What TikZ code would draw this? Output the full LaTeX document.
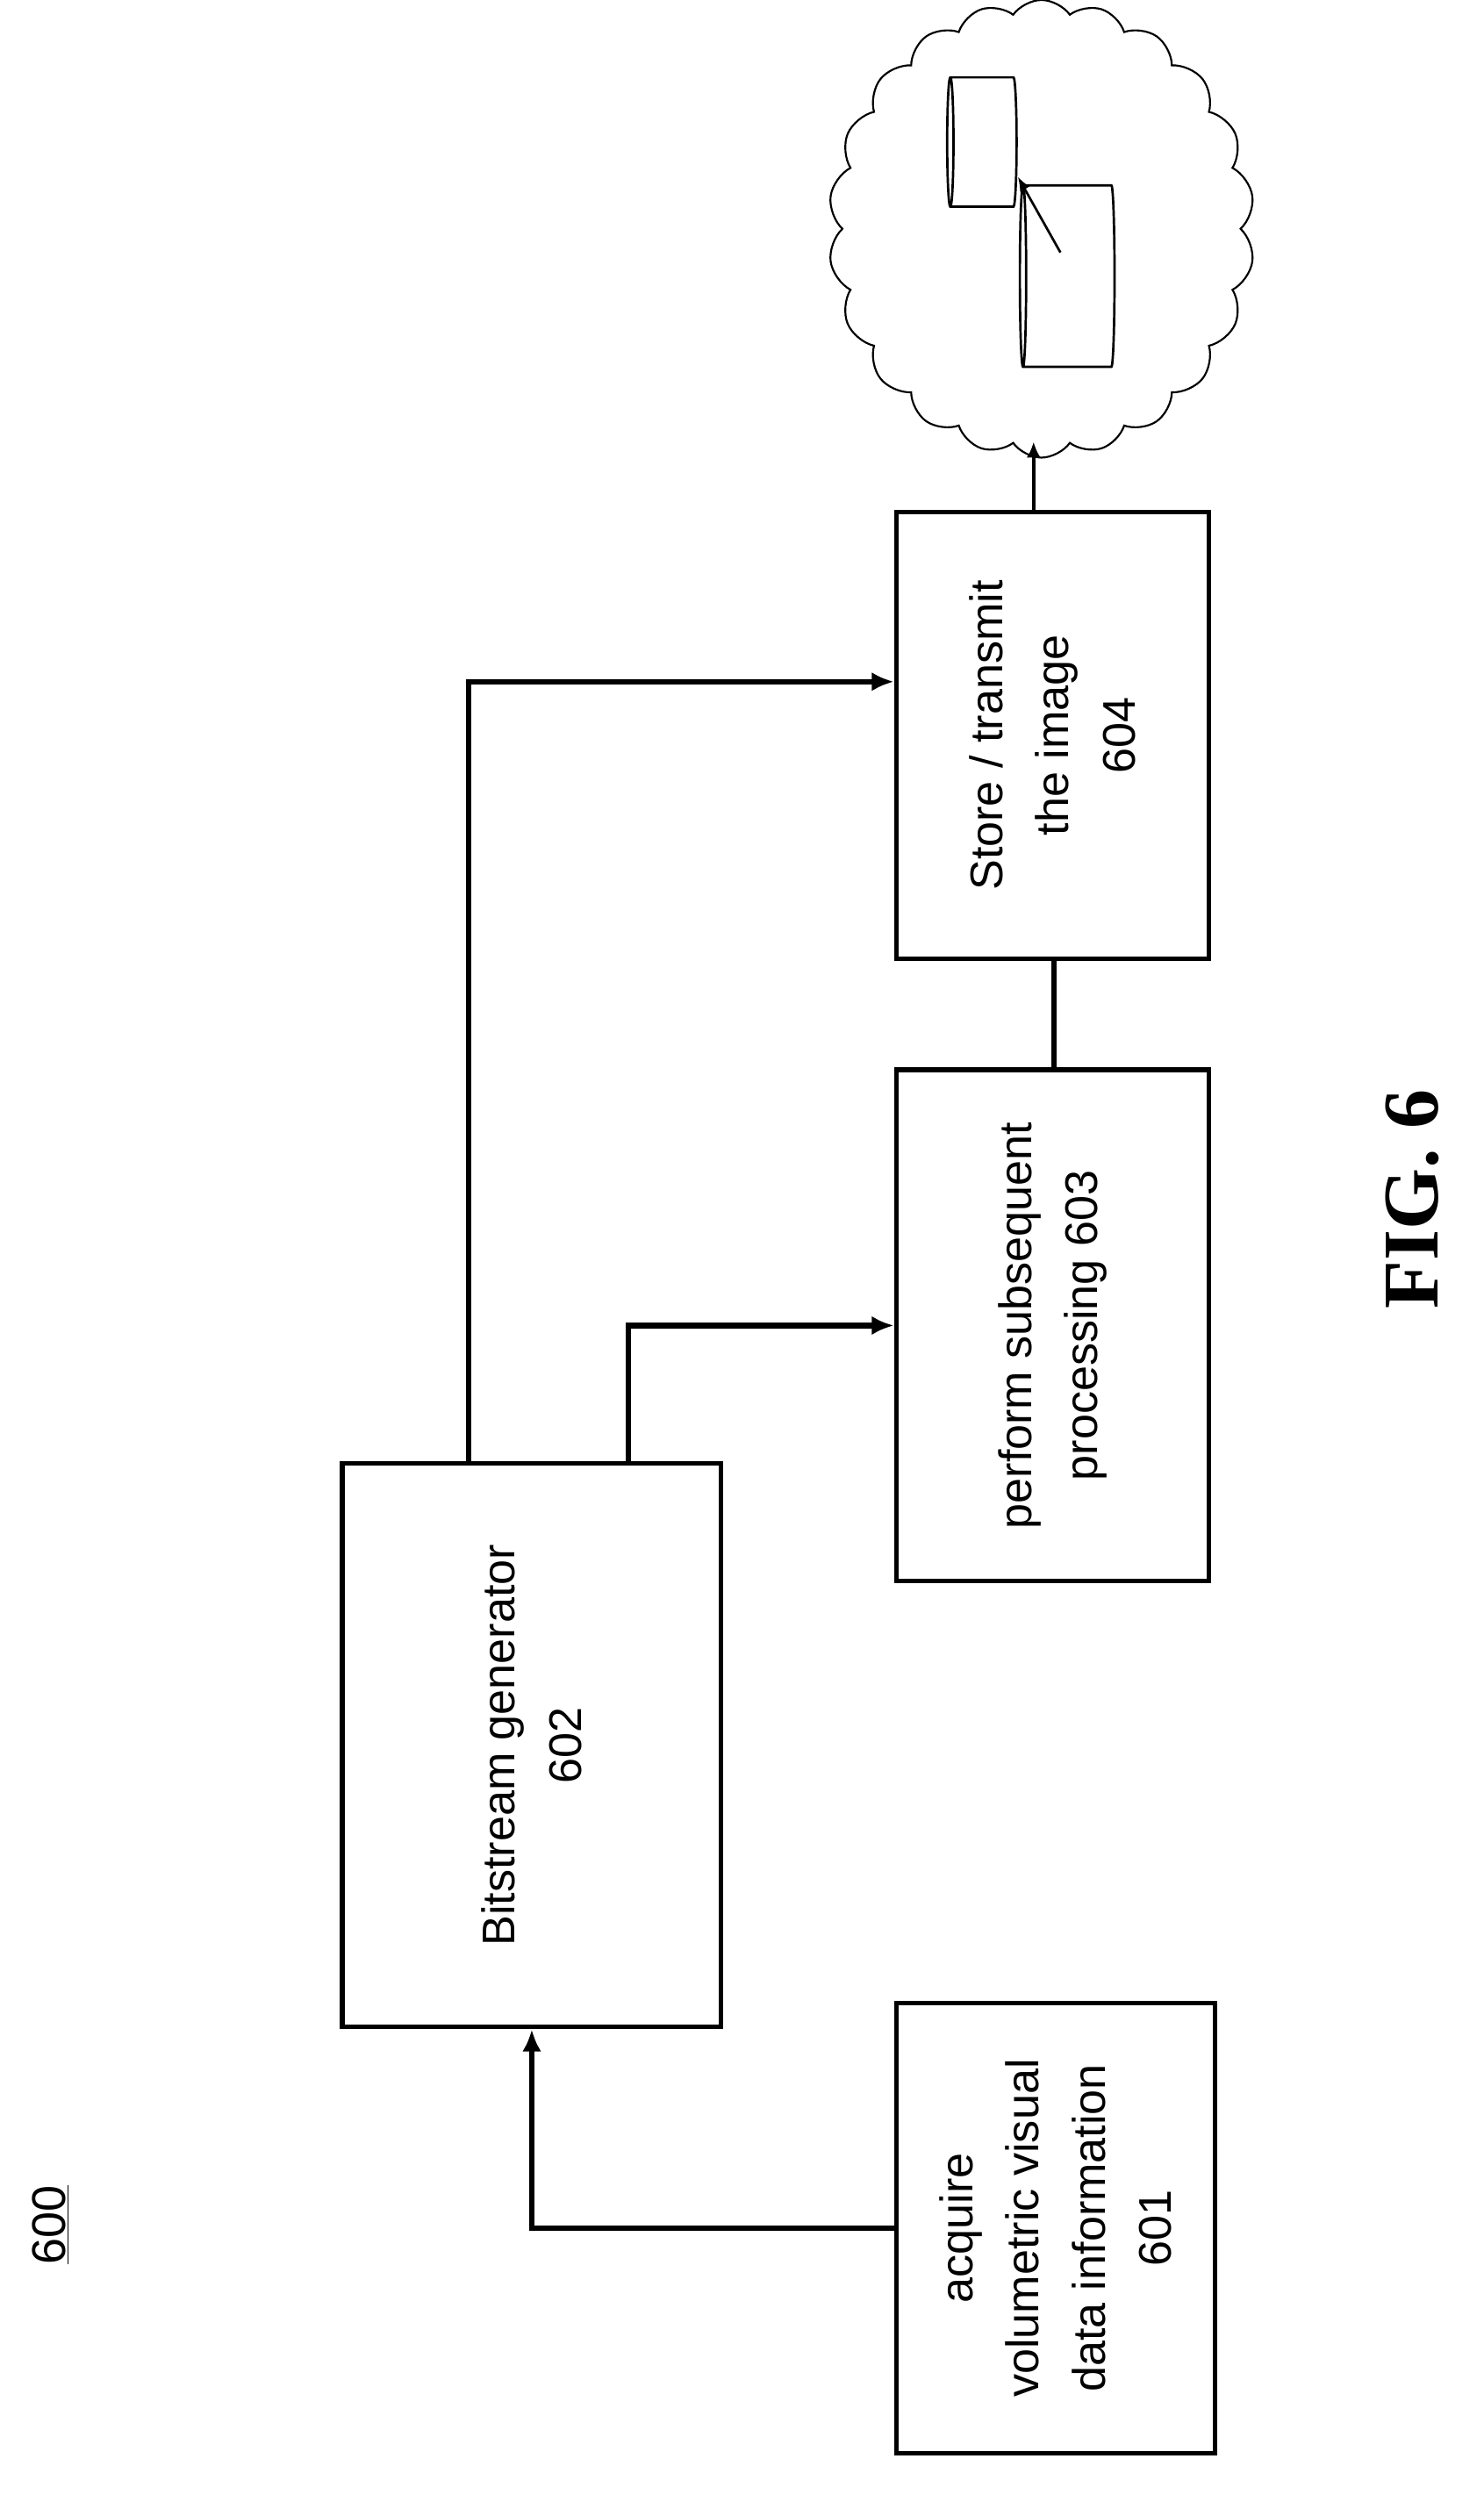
\documentclass[tikz,border=0pt]{standalone}
\usepackage{fontspec}
\setmainfont{Liberation Sans}
\newfontfamily\serifb{Liberation Serif}
\usetikzlibrary{shapes.symbols,shapes.geometric,arrows.meta}
\begin{document}
\begin{tikzpicture}[x=1pt,y=-1pt,
  box/.style={draw,line width=3pt,rectangle,inner sep=0pt},
  lbl/.style={rotate=90,align=center,font=\fontsize{29}{42}\selectfont},
  conn/.style={line width=3.5pt,-{Latex[length=14pt,width=12pt]}},
  cyl/.style={draw,line width=1.5pt,cylinder,shape border rotate=180,aspect=0.6,fill=white}]
\useasboundingbox (0,0) rectangle (940,1590);
\node[box,minimum width=202pt,minimum height=285pt] (b601) at (669,1412) {};
\node[box,minimum width=240pt,minimum height=357pt] (b602) at (337,1106) {};
\node[box,minimum width=198pt,minimum height=324pt] (b603) at (667,840) {};
\node[box,minimum width=198pt,minimum height=283pt] (b604) at (667,466) {};
\node[lbl] (t601) at (b601) {acquire\\volumetric visual\\data information\\601};
\node[lbl] (t602) at (b602) {Bitstream generator\\602};
\node[lbl] (t603) at (b603) {perform subsequent\\processing 603};
\node[lbl] (t604) at (b604) {Store / transmit\\the image\\604};
\node[cloud,draw,line width=1.2pt,cloud puffs=22,cloud puff arc=110,aspect=0.9,minimum width=270pt,minimum height=290pt] (cloud) at (660,145) {};
\node[cyl,minimum width=82pt,minimum height=44pt] (c1) at (624,90) {};
\node[cyl,minimum width=115pt,minimum height=60pt] (c2) at (678,175) {};
\draw[line width=1.5pt,-{Latex[length=9pt,width=7pt]}] (672,160) -- (645,112);
\draw[conn] (b601.west) -| (b602.south);
\draw[conn] ([xshift=-40pt]b602.north) |- ([yshift=34pt]b604.west);
\draw[conn] ([xshift=61pt]b602.north) |- (b603.west);
\draw[line width=3.5pt] ([xshift=1pt]b603.north) -- ([xshift=1pt]b604.south);
\coordinate (cb) at (655,280);
\draw[line width=2pt,-{Latex[length=10pt,width=9pt]}] ([xshift=-12pt]b604.north) -- (cb);
\node[rotate=90,font=\fontsize{30}{36}\selectfont] (n600) at (32,1410) {\underline{600}};
\node[rotate=90,font=\serifb\bfseries\fontsize{50}{60}\selectfont] (fig) at (895,760) {FIG. 6};
\end{tikzpicture}
\end{document}
